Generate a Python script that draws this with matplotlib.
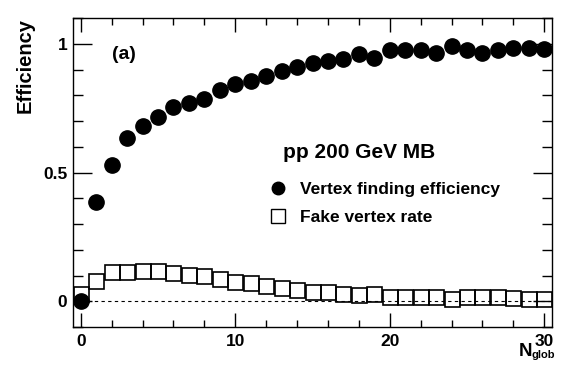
import matplotlib
matplotlib.use("Agg")
import matplotlib.pyplot as plt
from matplotlib.lines import Line2D
from matplotlib.ticker import MultipleLocator

plt.rcParams['font.family'] = ['Liberation Sans', 'DejaVu Sans']
plt.rcParams['font.weight'] = 'bold'

n_glob = list(range(31))
efficiency = [0.0, 0.386, 0.529, 0.635, 0.679, 0.717, 0.755, 0.770, 0.786, 0.819,
              0.845, 0.857, 0.873, 0.893, 0.910, 0.925, 0.934, 0.941, 0.960, 0.945,
              0.974, 0.977, 0.974, 0.964, 0.990, 0.974, 0.966, 0.974, 0.983, 0.983, 0.981]
fake_rate = [0.028, 0.077, 0.112, 0.115, 0.119, 0.116, 0.109, 0.101, 0.097, 0.085,
             0.073, 0.070, 0.058, 0.050, 0.043, 0.035, 0.035, 0.027, 0.023, 0.027,
             0.015, 0.015, 0.015, 0.015, 0.008, 0.015, 0.015, 0.015, 0.012, 0.008, 0.008]
xlim = (-0.5, 30.5)
ylim = (-0.1, 1.1)
label_eff = "Vertex finding efficiency"
label_fake = "Fake vertex rate"
title_text = "pp 200 GeV MB"
panel_text = "(a)"

fig = plt.figure(figsize=(5.64, 3.77), dpi=100)
ax = fig.add_axes([73/564, 1-327/377, 479/564, 309/377])

ax.plot([0, xlim[1]], [0, 0], ls=(0, (3, 3)), color='black', lw=0.8, zorder=1)
ax.plot(n_glob, fake_rate, ls='none', marker='s', ms=10.8, mfc='none',
        mec='black', mew=1.2, zorder=2)
ax.plot(n_glob, efficiency, ls='none', marker='o', ms=11, mfc='black',
        mec='black', zorder=3)

ax.set_xlim(*xlim)
ax.set_ylim(*ylim)
ax.xaxis.set_major_locator(MultipleLocator(10))
ax.xaxis.set_minor_locator(MultipleLocator(2))
ax.yaxis.set_minor_locator(MultipleLocator(0.1))
ax.set_yticks([0, 0.5, 1])
ax.set_yticklabels(['0', '0.5', '1'])
ax.tick_params(which='both', direction='in', top=True, right=True, width=1,
               labelsize=12.5)
ax.tick_params(axis='x', which='major', length=10, pad=5)
ax.tick_params(axis='x', which='minor', length=5)
ax.tick_params(axis='y', which='major', length=14, pad=4)
ax.tick_params(axis='y', which='minor', length=7.5)
for s in ax.spines.values():
    s.set_linewidth(1.0)

ax.set_ylabel("Efficiency", fontsize=14.5, fontweight='bold', loc='top')
ax.yaxis.set_label_coords(-0.08, 1.0)

# x-axis title N_glob (main letter + subscript)
ax.text((532-73)/479, -(356-327)/309, "N", transform=ax.transAxes,
        fontsize=13.5, fontweight='bold', ha='right', va='baseline')
ax.text((532-73)/479, -(358-327)/309, "glob", transform=ax.transAxes,
        fontsize=8, fontweight='bold', ha='left', va='baseline')

ax.text(0.082, 0.883, panel_text, transform=ax.transAxes, fontsize=14,
        fontweight='bold', ha='left', va='center')
ax.text((282.7-73)/479, (327-158.3)/309, title_text, transform=ax.transAxes,
        fontsize=15, fontweight='bold', ha='left', va='baseline')

handles = [Line2D([], [], ls='none', marker='o', ms=9, mfc='black', mec='black'),
           Line2D([], [], ls='none', marker='s', ms=10.5, mfc='none', mec='black', mew=1)]
leg = ax.legend(handles, [label_eff, label_fake], loc='upper left',
                bbox_to_anchor=((269.25-73)/479, 1-(182-18)/309),
                frameon=False, handlelength=1.0,
                handletextpad=0.8, borderpad=0, borderaxespad=0,
                labelspacing=0.72, prop={'weight': 'bold', 'size': 12.5})

fig.savefig("out.png", dpi=100)
